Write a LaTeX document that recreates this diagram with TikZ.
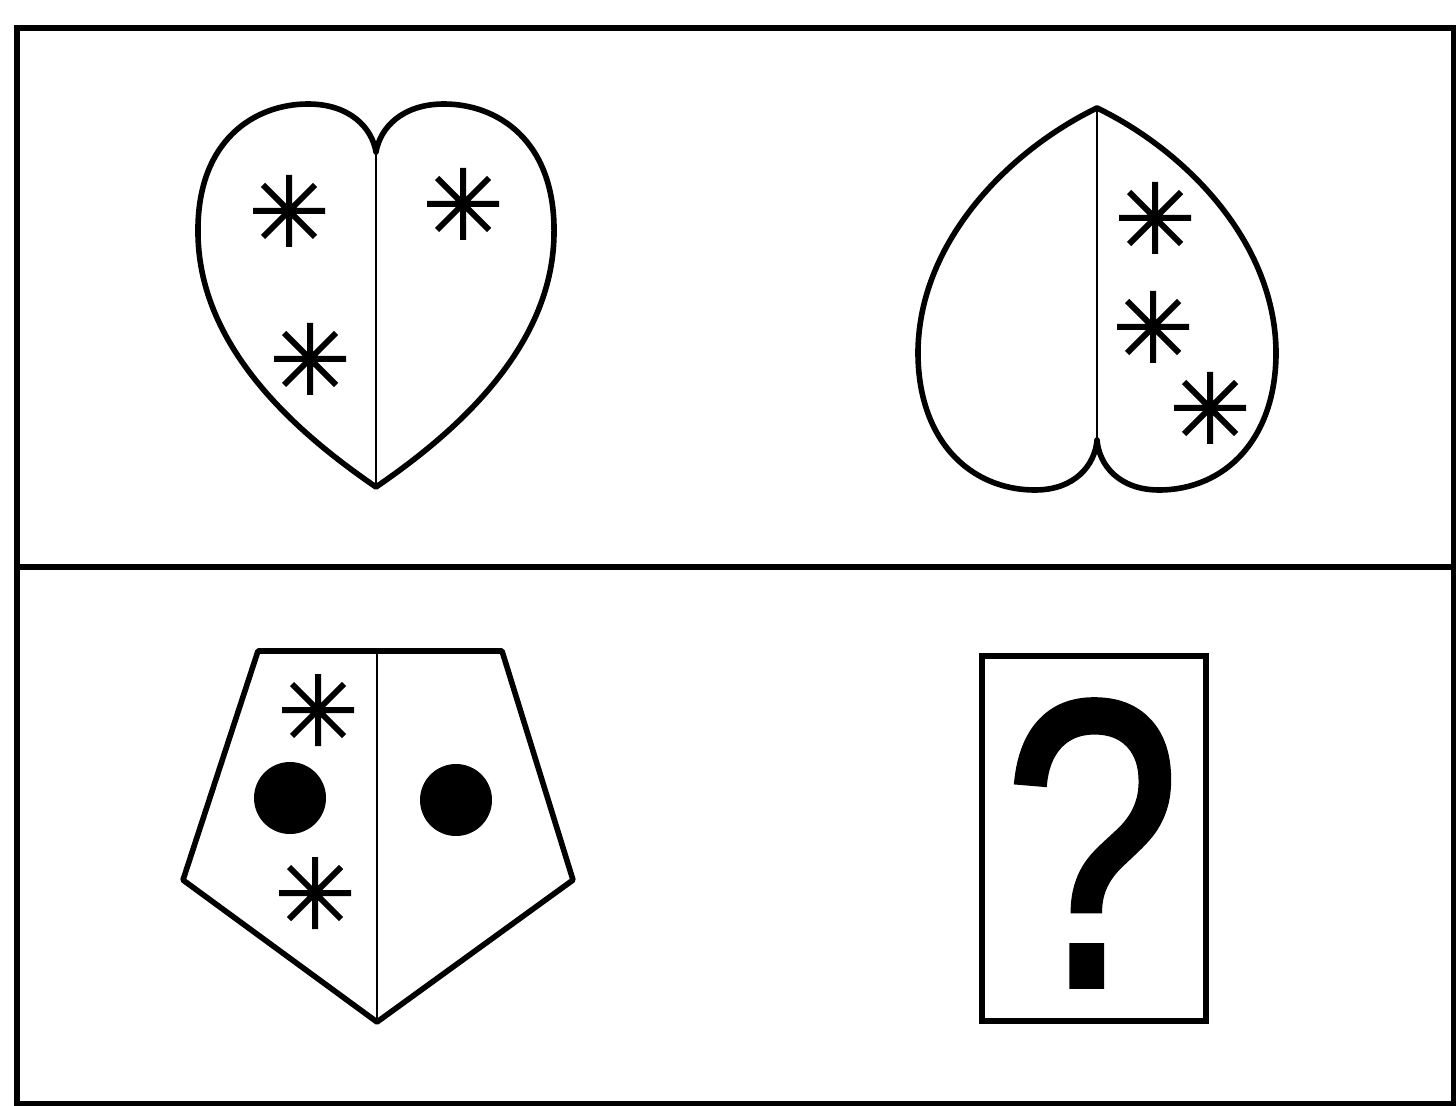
\documentclass[tikz,border=0pt]{standalone}
\usepackage{fontspec}
\setmainfont{Liberation Sans}
\newfontfamily\qmarkfont{Liberation Sans}[FakeBold=1.3]
\begin{document}
\begin{tikzpicture}[x=0.5pt,y=-0.5pt,
  outline/.style={line width=2.8pt,line join=round},
  divider/.style={line width=0.8pt},
  frameline/.style={line width=3pt},
  snow/.pic={\draw[line width=3pt] (-36,0)--(36,0) (0,-36)--(0,36) (-26,-26)--(26,26) (-26,26)--(26,-26);},
  dot/.style={fill=black}]
\useasboundingbox (0,0) rectangle (1456,1106);
% frame
\draw[frameline] (17,28) rectangle (1454,1104);
\draw[frameline] (17,567) -- (1454,567);
% heart 1
\draw[outline] (376,487) .. controls (300,435) and (200,350) .. (198,235)
  .. controls (196,140) and (255,104) .. (308,104)
  .. controls (350,104) and (372,128) .. (376,152)
  .. controls (380,128) and (402,104) .. (444,104)
  .. controls (497,104) and (556,140) .. (554,235)
  .. controls (552,350) and (452,435) .. (376,487) -- cycle;
\draw[divider] (376,152) -- (376,487);
\pic at (289,211) {snow};
\pic at (463,204) {snow};
\pic at (310,359) {snow};
% heart 2
\draw[outline] (1097,108) .. controls (1010,150) and (920,240) .. (918,350)
  .. controls (917,440) and (970,490) .. (1035,490)
  .. controls (1075,490) and (1095,465) .. (1097,440)
  .. controls (1099,465) and (1119,490) .. (1159,490)
  .. controls (1224,490) and (1277,440) .. (1276,350)
  .. controls (1274,240) and (1184,150) .. (1097,108) -- cycle;
\draw[divider] (1097,108) -- (1097,440);
\pic at (1155,218) {snow};
\pic at (1153,327) {snow};
\pic at (1210,408) {snow};
% pentagon
\draw[outline] (258,651) -- (502,651) -- (573,880) -- (377,1022) -- (183,880) -- cycle;
\draw[divider] (377,651) -- (377,1022);
\pic at (318,710) {snow};
\pic at (315,893) {snow};
\fill[dot] (290,798) circle (36);
\fill[dot] (456,800) circle (36);
% question box
\draw[line width=2.8pt] (982,656) rectangle (1206,1021);
\node[inner sep=0pt,xscale=0.78] (q) at (1092,843) {\fontsize{205}{205}\selectfont\qmarkfont ?};
\end{tikzpicture}
\end{document}
